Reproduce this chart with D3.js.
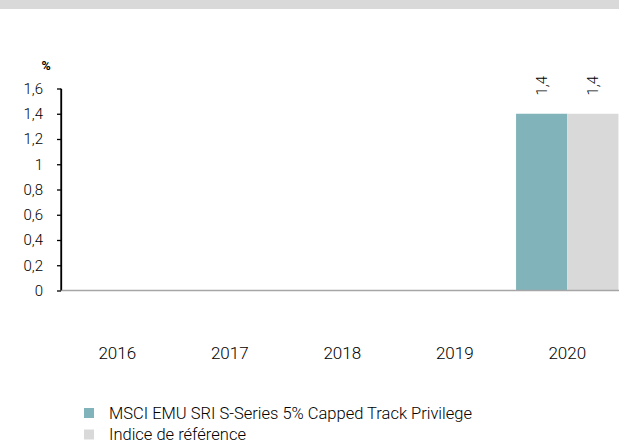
<!DOCTYPE html>
<html><head><meta charset="utf-8">
<script src="https://cdn.jsdelivr.net/npm/d3@7"></script>
<style>body{margin:0;background:#fff}svg{display:block;font-family:Roboto,"Noto Sans",sans-serif;font-weight:300}</style>
</head><body><svg id="c" width="619" height="443"></svg>
<script>
const categories = ["2016","2017","2018","2019","2020"];
const seriesNames = ["MSCI EMU SRI S-Series 5% Capped Track Privilege","Indice de référence"];
const fundValues = [null,null,null,null,1.4];
const indexValues = [null,null,null,null,1.4];
const yTicks = [0,0.2,0.4,0.6,0.8,1,1.2,1.4,1.6];
const colors = ["#81b3ba","#d9d9d9"];

(function(){
const svg = d3.select("#c");
svg.append("rect").attr("x",0).attr("y",0).attr("width",619).attr("height",9).attr("fill","#d9d9d9");

const pl=61, pt=88.5, pb=290.5, pr=623.5;
const y = d3.scaleLinear().domain([0,1.6]).range([pb,pt]);
const x = d3.scaleBand().domain(categories).range([pl,pr]).paddingInner(0.09).paddingOuter(0.045);
const x1 = d3.scaleBand().domain([0,1]).range([0,x.bandwidth()]);
const fmt = v => String(v).replace(".",",");

const yAxis = svg.append("g").attr("transform",`translate(${pl},0)`)
  .call(d3.axisLeft(y).tickValues(yTicks).tickFormat(fmt).tickSize(4).tickSizeOuter(0));
yAxis.attr("font-family",null);
yAxis.select(".domain").attr("stroke","#000").attr("stroke-width",1.3);
yAxis.selectAll(".tick line").attr("stroke","#000").attr("stroke-width",1.3);
yAxis.selectAll(".tick text").attr("font-size",15).attr("fill","#000").attr("x",-18);

svg.append("text").attr("x",46).attr("y",70).attr("text-anchor","middle").attr("font-size",12.5).attr("font-weight","bold").text("%");

const series=[fundValues,indexValues];
series.forEach((vals,si)=>{
  const g=svg.append("g");
  categories.forEach((c,i)=>{
    const v=vals[i]; if(v==null) return;
    const bx=x(c)+x1(si), bw=x1.bandwidth();
    g.append("rect").attr("x",bx).attr("y",y(v)).attr("width",bw).attr("height",y(0)-y(v)).attr("fill",colors[si]);
    const cx=bx+bw/2, cy=y(v)-28;
    g.append("text").attr("transform",`translate(${cx+5},${cy}) rotate(-90)`).attr("text-anchor","middle")
      .attr("font-size",15).attr("fill","#000").text(fmt(v));
  });
});

svg.append("line").attr("x1",pl).attr("x2",619).attr("y1",y(0)).attr("y2",y(0)).attr("stroke","#a6a6a6").attr("stroke-width",1.3);
svg.append("line").attr("x1",pl).attr("x2",pl).attr("y1",pt).attr("y2",pb).attr("stroke","#000").attr("stroke-width",1.3);

svg.append("g").selectAll("text").data(categories).join("text")
  .attr("x",d=>x(d)+x.bandwidth()/2).attr("y",359).attr("text-anchor","middle").attr("font-size",17).attr("fill","#000").text(d=>d);

const leg=svg.append("g");
seriesNames.forEach((n,i)=>{
  leg.append("rect").attr("x",84).attr("y",408+i*21.5).attr("width",10).attr("height",10).attr("fill",colors[i]);
  leg.append("text").attr("x",109).attr("y",419+i*20.5).attr("font-size",16.5).attr("fill","#000").text(n);
});
})();
</script></body></html>
